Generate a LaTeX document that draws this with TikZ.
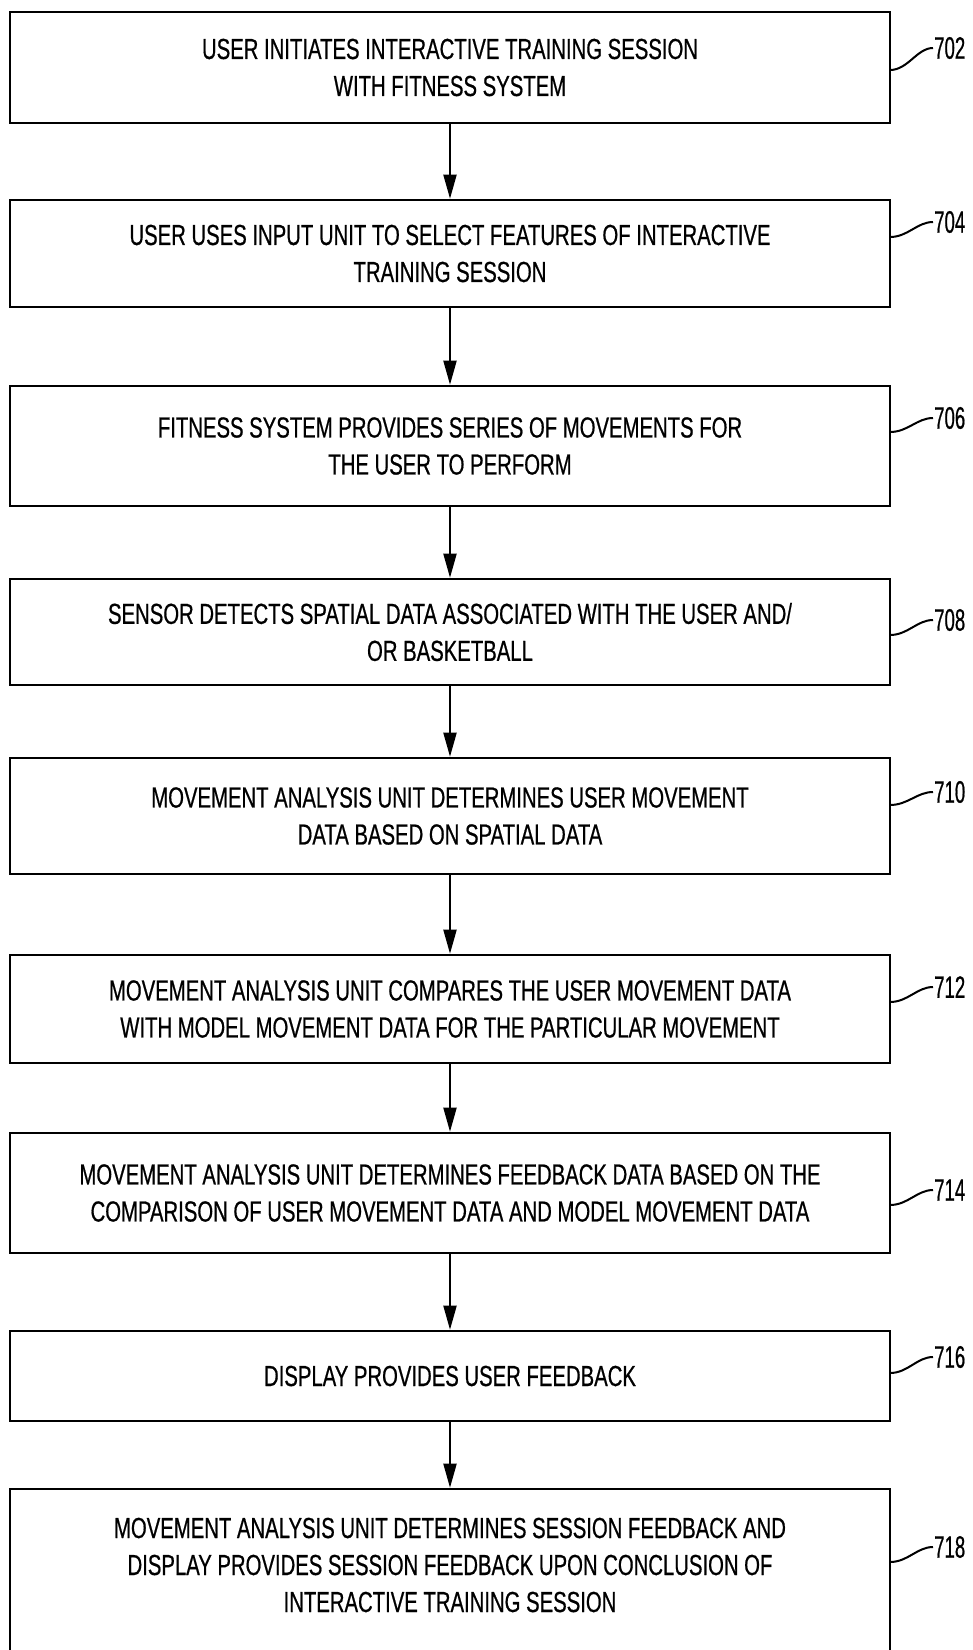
\documentclass[tikz,border=0pt]{standalone}
\usepackage{fontspec}
\newfontfamily\boxfont[FakeStretch=0.7, FakeBold=0.6]{Liberation Sans}
\newfontfamily\numfont[FakeStretch=0.6, FakeBold=0.6]{Liberation Sans}
\usetikzlibrary{arrows.meta, positioning}

\tikzset{
  stepbox/.style={draw, line width=2.6pt, minimum width=880pt, inner sep=0pt, align=center,
    font=\boxfont\fontsize{29}{37}\selectfont},
  steptext/.style={inner sep=0pt, align=center, font=\boxfont\fontsize{29}{37}\selectfont},
  flowarrow/.style={line width=2pt, -{Triangle[length=24pt, width=13pt]}},
  reflabel/.style={anchor=west, inner sep=1pt, font=\numfont\fontsize{31}{31}\selectfont},
  leader/.style={line width=2pt},
}

\begin{document}
\begin{tikzpicture}[x=1pt, y=-1pt]
            \useasboundingbox (0,0) rectangle (973,1650);
            \clip (0,0) rectangle (973,1650);

            % Steps of the training session
            \node[stepbox, minimum height=111pt] (s702) at (450,67.5)
              {USER INITIATES INTERACTIVE TRAINING SESSION\\WITH FITNESS SYSTEM};
            \node[stepbox, minimum height=107pt] (s704) at (450,253.5)
              {USER USES INPUT UNIT TO SELECT FEATURES OF INTERACTIVE\\TRAINING SESSION};
            \node[stepbox, minimum height=120pt] (s706) at (450,446)
              {FITNESS SYSTEM PROVIDES SERIES OF MOVEMENTS FOR\\THE USER TO PERFORM};
            \node[stepbox, minimum height=106pt] (s708) at (450,632)
              {SENSOR DETECTS SPATIAL DATA ASSOCIATED WITH THE USER AND/\\OR BASKETBALL};
            \node[stepbox, minimum height=116pt] (s710) at (450,816)
              {MOVEMENT ANALYSIS UNIT DETERMINES USER MOVEMENT\\DATA BASED ON SPATIAL DATA};
            \node[stepbox, minimum height=108pt] (s712) at (450,1009)
              {MOVEMENT ANALYSIS UNIT COMPARES THE USER MOVEMENT DATA\\WITH MODEL MOVEMENT DATA FOR THE PARTICULAR MOVEMENT};
            \node[stepbox, minimum height=120pt] (s714) at (450,1193)
              {MOVEMENT ANALYSIS UNIT DETERMINES FEEDBACK DATA BASED ON THE\\COMPARISON OF USER MOVEMENT DATA AND MODEL MOVEMENT DATA};
            \node[stepbox, minimum height=90pt] (s716) at (450,1376)
              {DISPLAY PROVIDES USER FEEDBACK};

            % Last step runs off the bottom of the sheet
            \node[stepbox, minimum height=220pt] (s718) at (450,1599) {};
            \node[steptext] (t718) at (450,1565)
              {MOVEMENT ANALYSIS UNIT DETERMINES SESSION FEEDBACK AND\\DISPLAY PROVIDES SESSION FEEDBACK UPON CONCLUSION OF\\INTERACTIVE TRAINING SESSION};

            % Arrows between steps
            \draw[flowarrow] (s702) -- (s704);
            \draw[flowarrow] (s704) -- (s706);
            \draw[flowarrow] (s706) -- (s708);
            \draw[flowarrow] (s708) -- (s710);
            \draw[flowarrow] (s710) -- (s712);
            \draw[flowarrow] (s712) -- (s714);
            \draw[flowarrow] (s714) -- (s716);
            \draw[flowarrow] (s716) -- (s718);

            % Reference numerals
            \node[reflabel] (l702) at (933,48) {702};
            \node[reflabel] (l704) at (933,222) {704};
            \node[reflabel] (l706) at (933,418) {706};
            \node[reflabel] (l708) at (933,620) {708};
            \node[reflabel] (l710) at (933,792) {710};
            \node[reflabel] (l712) at (933,987) {712};
            \node[reflabel] (l714) at (933,1190) {714};
            \node[reflabel] (l716) at (933,1357) {716};
            \node[reflabel] (l718) at (933,1547) {718};

            % Leader lines
            \coordinate (a702) at (890,70);
            \coordinate (a704) at (890,237);
            \coordinate (a706) at (890,432);
            \coordinate (a708) at (890,635);
            \coordinate (a710) at (890,805);
            \coordinate (a712) at (890,1002);
            \coordinate (a714) at (890,1205);
            \coordinate (a716) at (890,1373);
            \coordinate (a718) at (890,1562);
            \draw[leader] (a702) .. controls +(18,0) and +(-16,0) .. (l702.west);
            \draw[leader] (a704) .. controls +(18,0) and +(-16,0) .. (l704.west);
            \draw[leader] (a706) .. controls +(18,0) and +(-16,0) .. (l706.west);
            \draw[leader] (a708) .. controls +(18,0) and +(-16,0) .. (l708.west);
            \draw[leader] (a710) .. controls +(18,0) and +(-16,0) .. (l710.west);
            \draw[leader] (a712) .. controls +(18,0) and +(-16,0) .. (l712.west);
            \draw[leader] (a714) .. controls +(18,0) and +(-16,0) .. (l714.west);
            \draw[leader] (a716) .. controls +(18,0) and +(-16,0) .. (l716.west);
            \draw[leader] (a718) .. controls +(18,0) and +(-16,0) .. (l718.west);

        \end{tikzpicture}
\end{document}
